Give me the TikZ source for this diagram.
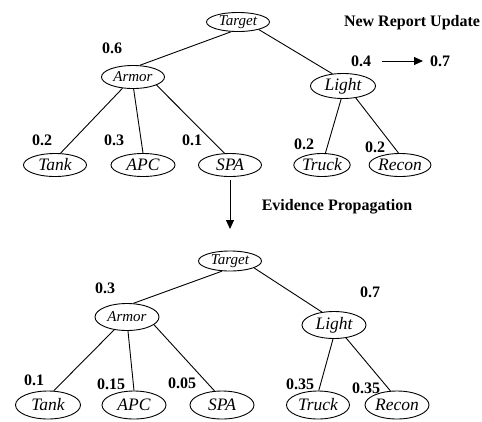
\documentclass[tikz,border=0pt]{standalone}
\usepackage{fontspec}
\setmainfont{Liberation Serif}
\usetikzlibrary{shapes.geometric}
\usetikzlibrary{arrows.meta}

\begin{document}
\begin{tikzpicture}[x=1pt, y=-1pt, line width=0.9pt,
        hyp/.style = {draw, ellipse, inner sep=0pt, font=\fontsize{17.5}{17.5}\selectfont\itshape},
        upper/.style = {hyp, font=\fontsize{15}{15}\selectfont\itshape},
        prob/.style = {font=\fontsize{16}{16}\selectfont\bfseries},
        tip/.style = {-{Triangle[length=9pt, width=8pt]}}]
        \useasboundingbox (0, 0) rectangle (482, 421);

        % before the report
        \node[upper, minimum width=63, minimum height=19] (target) at (238, 22) {Target};
        \node[upper, minimum width=63, minimum height=23] (armor) at (133, 77) {Armor};
        \node[hyp, minimum width=65, minimum height=25] (light) at (343, 86) {Light};
        \node[hyp, minimum width=63, minimum height=23] (tank) at (55, 165) {Tank};
        \node[hyp, minimum width=64, minimum height=23] (apc) at (143, 165) {APC};
        \node[hyp, minimum width=63, minimum height=23] (spa) at (230, 165) {SPA};
        \node[hyp, minimum width=53, minimum height=23] (truck) at (322, 165) {Truck};
        \node[hyp, minimum width=57, minimum height=23] (recon) at (400, 165) {Recon};

        \draw (target.235) -- (armor.60);
        \draw (target.340) -- (light.131);
        \draw (armor.227) -- (tank.65);
        \draw (armor.273) -- (apc.90);
        \draw (armor.341) -- (spa.115);
        \draw (light.262) -- (truck.74);
        \draw (light.317) -- (recon.97);

        \node[prob] (pArmor) at (112, 48) {0.6};
        \node[prob] (pLight) at (361, 61) {0.4};
        \node[prob] (pTank) at (42, 140) {0.2};
        \node[prob] (pApc) at (114, 140) {0.3};
        \node[prob] (pSpa) at (192, 140) {0.1};
        \node[prob] (pTruck) at (304, 144) {0.2};
        \node[prob] (pRecon) at (375, 147) {0.2};

        \node[prob] (report) at (412, 23) {New Report Update};
        \node[prob] (pNew) at (440, 61) {0.7};
        \coordinate (r1) at (382, 61);
        \coordinate (r2) at (423, 61);
        \draw[tip] (r1) -- (r2);

        % propagation step
        \coordinate (s1) at (230, 180);
        \coordinate (s2) at (230, 229);
        \draw[tip] (s1) -- (s2);
        \node[prob] (evidence) at (337, 207) {Evidence Propagation};

        % after the propagation
        \node[upper, minimum width=63, minimum height=20] (target2) at (230, 261) {Target};
        \node[upper, minimum width=64, minimum height=27] (armor2) at (127, 317) {Armor};
        \node[hyp, minimum width=64, minimum height=27] (light2) at (334, 325) {Light};
        \node[hyp, minimum width=65, minimum height=28] (tank2) at (48, 405) {Tank};
        \node[hyp, minimum width=64, minimum height=28] (apc2) at (134, 405) {APC};
        \node[hyp, minimum width=64, minimum height=28] (spa2) at (222, 405) {SPA};
        \node[hyp, minimum width=63, minimum height=28] (truck2) at (318, 405) {Truck};
        \node[hyp, minimum width=64, minimum height=28] (recon2) at (397, 405) {Recon};

        \draw (target2.232) -- (armor2.65);
        \draw (target2.344) -- (light2.133);
        \draw (armor2.225) -- (tank2.68);
        \draw (armor2.274) -- (apc2.90);
        \draw (armor2.344) -- (spa2.118);
        \draw (light2.266) -- (truck2.87);
        \draw (light2.313) -- (recon2.115);

        \node[prob] (qArmor) at (105, 288) {0.3};
        \node[prob] (qLight) at (370, 292) {0.7};
        \node[prob] (qTank) at (34, 380) {0.1};
        \node[prob] (qApc) at (111, 384) {0.15};
        \node[prob] (qSpa) at (182, 383) {0.05};
        \node[prob] (qTruck) at (300, 384) {0.35};
        \node[prob] (qRecon) at (366, 388) {0.35};
\end{tikzpicture}
\end{document}
